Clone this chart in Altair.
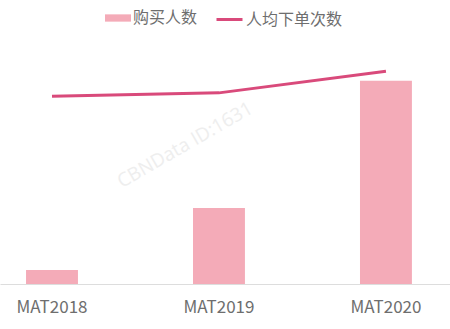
import altair as alt
import pandas as pd

periods = ["MAT2018", "MAT2019", "MAT2020"]
buyers = [0.69, 3.74, 10.0]          # 购买人数 (relative)
orders = [2.77, 2.82, 3.14]          # 人均下单次数 (relative)
series_bar = "购买人数"
series_line = "人均下单次数"
watermark = "CBNData ID:1631"

df = pd.DataFrame({
    "period": periods,
    "buyers": buyers,
    "orders": orders,
    "s1": [series_bar] * 3,
    "s2": [series_line] * 3,
})
wm = pd.DataFrame({"t": [watermark]})

bar_color = "#F4ABB8"
line_color = "#D94A7B"
text_color = "#6e6e6e"

x = alt.X(
    "period:N",
    sort=periods,
    scale=alt.Scale(paddingInner=0.689, paddingOuter=0.192, align=0.406),
    axis=alt.Axis(
        title=None, labelAngle=0, ticks=False, grid=False,
        domainColor="#dddddd", domainWidth=1,
        labelColor=text_color, labelFontSize=17, labelFont="Noto Sans CJK SC",
        labelPadding=15,
    ),
)

wm_layer = alt.Chart(wm).mark_text(
    angle=330, fontSize=19, font="Open Sans", color="#eeeeee"
).encode(x=alt.value(185), y=alt.value(105), text="t:N")

bars = alt.Chart(df).mark_bar().encode(
    x=x,
    y=alt.Y("buyers:Q", scale=alt.Scale(domain=[0, 12]), axis=None),
    color=alt.Color(
        "s1:N",
        scale=alt.Scale(domain=[series_bar], range=[bar_color]),
        legend=alt.Legend(
            title=None, orient="none", legendX=105, legendY=-35, padding=0,
            symbolType="M-1,-0.28L1,-0.28L1,0.28L-1,0.28Z", symbolSize=676,
            symbolStrokeWidth=0, symbolOpacity=1,
            labelFontSize=16, labelFont="Noto Sans CJK SC", labelColor=text_color,
            labelOffset=2,
        ),
    ),
)

line = alt.Chart(df).mark_line(strokeWidth=3).encode(
    x=x,
    y=alt.Y("orders:Q", scale=alt.Scale(domain=[0, 3.6]), axis=None),
    color=alt.Color(
        "s2:N",
        scale=alt.Scale(domain=[series_line], range=[line_color]),
        legend=alt.Legend(
            title=None, orient="none", legendX=215, legendY=-35, padding=0,
            symbolType="stroke", symbolSize=676, symbolStrokeWidth=3,
            labelFontSize=16, labelFont="Noto Sans CJK SC", labelColor=text_color,
            labelOffset=2,
        ),
    ),
)

chart = alt.layer(wm_layer, bars, line).resolve_scale(
    y="independent", color="independent"
).resolve_legend(color="independent").properties(
    width=450, height=244,
    padding={"left": 0, "top": 40, "right": 0, "bottom": 45},
    autosize=alt.AutoSizeParams(type="none"),
    background="white",
).configure_view(stroke=None)

chart.save("out.html", embed_options={"renderer": "svg", "actions": False})
